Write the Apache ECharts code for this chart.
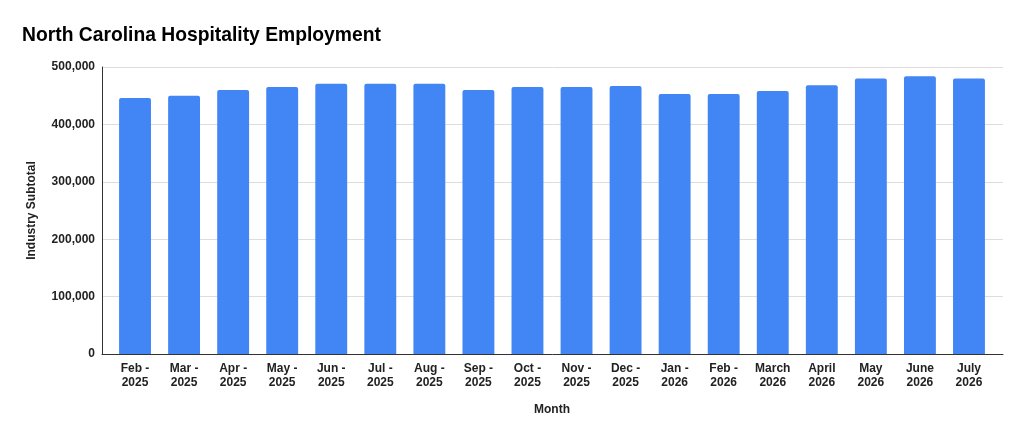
<!DOCTYPE html>
<html>
<head>
<meta charset="utf-8">
<script src="https://cdn.jsdelivr.net/npm/echarts@6/dist/echarts.min.js"></script>
<style>
  html, body { margin: 0; padding: 0; background: #fff; }
  #chart { width: 1024px; height: 440px; }
</style>
</head>
<body>
<div id="chart"></div>
<script>
// months on the x axis (two-line labels)
var months = ['Feb -\n2025', 'Mar -\n2025', 'Apr -\n2025', 'May -\n2025', 'Jun -\n2025', 'Jul -\n2025',
  'Aug -\n2025', 'Sep -\n2025', 'Oct -\n2025', 'Nov -\n2025', 'Dec -\n2025', 'Jan -\n2026',
  'Feb -\n2026', 'March\n2026', 'April\n2026', 'May\n2026', 'June\n2026', 'July\n2026'];
// industry subtotal
var subtotal = [446000, 450000, 460000, 465000, 471000, 471000, 471000, 460000, 465000,
  465000, 467000, 453000, 453000, 458000, 468000, 480000, 484000, 480000];

var font = 'Liberation Sans, Arial, sans-serif';
var labelStyle = { fontFamily: font, fontSize: 12, fontWeight: 'bold', color: '#222' };
var chart = echarts.init(document.getElementById('chart'));
chart.setOption({
  animation: false,
  title: {
    text: 'North Carolina Hospitality Employment',
    left: 17, top: 21,
    textStyle: { fontFamily: font, fontSize: 19.3, fontWeight: 'bold', color: '#000' }
  },
  // outer grid carries gridlines and axis lines, inner grid carries the bars
  grid: [
    { left: 102, right: 21, top: 67, bottom: 86 },
    { left: 110.5, right: 30.5, top: 67, bottom: 86 }
  ],
  xAxis: [{
    gridIndex: 0,
    type: 'value', min: 0, max: 1,
    axisLine: { show: true, onZero: false, lineStyle: { color: '#333', width: 1 } },
    axisTick: { show: false }, axisLabel: { show: false }, splitLine: { show: false }
  }, {
    gridIndex: 1,
    type: 'category',
    data: months,
    name: 'Month',
    nameLocation: 'middle',
    nameGap: 50,
    nameTextStyle: labelStyle,
    axisLine: { show: false },
    axisTick: { show: false },
    axisLabel: Object.assign({ interval: 0, lineHeight: 14, margin: 8 }, labelStyle)
  }],
  yAxis: [{
    gridIndex: 0,
    type: 'value',
    min: 0, max: 500000, interval: 100000,
    name: 'Industry Subtotal',
    nameLocation: 'middle',
    nameGap: 64,
    nameTextStyle: labelStyle,
    axisLine: { show: true, lineStyle: { color: '#333', width: 1 } },
    axisTick: { show: false },
    splitLine: { lineStyle: { color: '#ddd' } },
    axisLabel: Object.assign({
      margin: 7,
      formatter: function (v) { return v.toLocaleString('en-US'); }
    }, labelStyle)
  }, {
    gridIndex: 1,
    type: 'value',
    min: 0, max: 500000, interval: 100000,
    axisLine: { show: false }, axisTick: { show: false },
    axisLabel: { show: false }, splitLine: { show: false }
  }],
  series: [{
    type: 'bar',
    xAxisIndex: 1, yAxisIndex: 1,
    data: subtotal,
    barWidth: '65%',
    itemStyle: { color: '#4285F4', borderRadius: [2, 2, 0, 0] }
  }]
});
</script>
</body>
</html>
